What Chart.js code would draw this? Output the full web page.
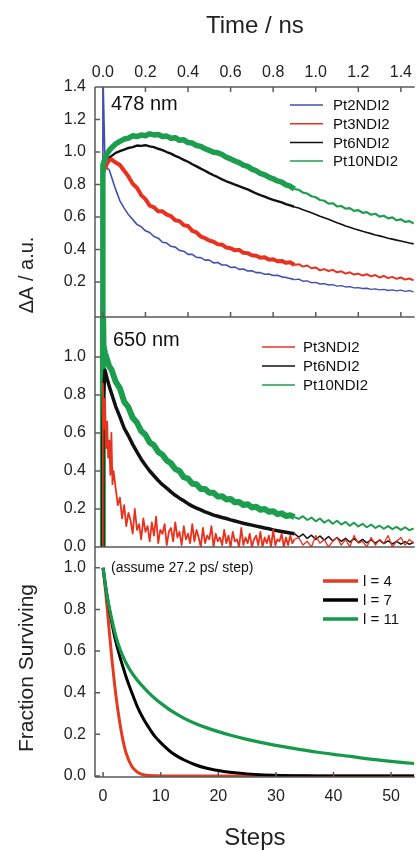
<!DOCTYPE html>
<html>
<head>
<meta charset="utf-8">
<script src="https://cdn.jsdelivr.net/npm/chart.js@4.4.1/dist/chart.umd.min.js"></script>
<style>
  html, body { margin: 0; padding: 0; background: #fff; }
  canvas { display: block; }
</style>
</head>
<body>
<canvas id="c" width="417" height="850"></canvas>
<script>
// ---- tick labels
const nsTicks = [0, 0.2, 0.4, 0.6, 0.8, 1.0, 1.2, 1.4];
const stepTicks = [0, 10, 20, 30, 40, 50];
const yTicks478 = [0.2, 0.4, 0.6, 0.8, 1.0, 1.2, 1.4];
const yTicks650 = [0, 0.2, 0.4, 0.6, 0.8, 1.0];
const yTicksFrac = [0, 0.2, 0.4, 0.6, 0.8, 1.0];

// ---- 478 nm panel (time in ns)
const t478 = [-0.002, 0, 0.01, 0.02, 0.03, 0.04, 0.06, 0.08, 0.10, 0.12, 0.14, 0.16, 0.18, 0.20, 0.22, 0.24, 0.26, 0.28, 0.30, 0.32, 0.34, 0.36, 0.38, 0.40, 0.42, 0.44, 0.46, 0.48, 0.50, 0.52, 0.54, 0.56, 0.58, 0.60, 0.62, 0.64, 0.66, 0.68, 0.70, 0.72, 0.74, 0.76, 0.78, 0.80, 0.82, 0.84, 0.86, 0.88, 0.90, 0.92, 0.94, 0.96, 0.98, 1.00, 1.02, 1.04, 1.06, 1.08, 1.10, 1.12, 1.14, 1.16, 1.18, 1.20, 1.22, 1.24, 1.26, 1.28, 1.30, 1.32, 1.34, 1.36, 1.38, 1.40, 1.42, 1.44, 1.46];
const pt2_478 = [-0.05, 1.5, 0.93, 0.90, 0.89, 0.85, 0.77, 0.70, 0.655, 0.615, 0.585, 0.555, 0.54, 0.515, 0.505, 0.48, 0.47, 0.445, 0.44, 0.42, 0.415, 0.395, 0.39, 0.37, 0.37, 0.352, 0.35, 0.335, 0.335, 0.318, 0.32, 0.305, 0.305, 0.29, 0.292, 0.278, 0.28, 0.268, 0.27, 0.258, 0.258, 0.248, 0.25, 0.24, 0.242, 0.232, 0.228, 0.222, 0.215, 0.218, 0.205, 0.207, 0.196, 0.198, 0.188, 0.19, 0.182, 0.184, 0.175, 0.178, 0.17, 0.172, 0.164, 0.166, 0.16, 0.162, 0.155, 0.158, 0.152, 0.155, 0.148, 0.152, 0.146, 0.15, 0.143, 0.147, 0.14];
const pt3_478 = [-0.05, 0.87, 0.90, 0.93, 0.95, 0.955, 0.935, 0.92, 0.885, 0.85, 0.805, 0.78, 0.735, 0.71, 0.67, 0.66, 0.635, 0.635, 0.615, 0.605, 0.58, 0.575, 0.55, 0.545, 0.515, 0.505, 0.48, 0.47, 0.455, 0.448, 0.432, 0.43, 0.412, 0.408, 0.395, 0.398, 0.38, 0.378, 0.365, 0.362, 0.35, 0.352, 0.338, 0.34, 0.328, 0.33, 0.318, 0.322, 0.305, 0.31, 0.295, 0.302, 0.285, 0.29, 0.272, 0.28, 0.268, 0.275, 0.26, 0.266, 0.252, 0.26, 0.246, 0.252, 0.24, 0.248, 0.235, 0.243, 0.228, 0.238, 0.224, 0.232, 0.22, 0.228, 0.215, 0.222, 0.21];
const pt6_478 = [-0.05, 0.90, 0.93, 0.95, 0.965, 0.975, 0.995, 1.005, 1.015, 1.025, 1.03, 1.04, 1.038, 1.042, 1.035, 1.03, 1.02, 1.012, 1.0, 0.99, 0.976, 0.965, 0.952, 0.94, 0.925, 0.912, 0.898, 0.885, 0.87, 0.857, 0.845, 0.832, 0.82, 0.81, 0.80, 0.79, 0.78, 0.77, 0.758, 0.745, 0.735, 0.726, 0.715, 0.706, 0.698, 0.69, 0.68, 0.672, 0.662, 0.655, 0.645, 0.636, 0.626, 0.616, 0.605, 0.596, 0.586, 0.575, 0.565, 0.556, 0.545, 0.537, 0.528, 0.52, 0.512, 0.505, 0.498, 0.49, 0.484, 0.477, 0.47, 0.464, 0.458, 0.452, 0.446, 0.44, 0.435];
const pt10_478 = [-0.05, 0.92, 0.96, 0.99, 1.01, 1.025, 1.05, 1.065, 1.08, 1.085, 1.10, 1.095, 1.105, 1.10, 1.112, 1.105, 1.108, 1.095, 1.098, 1.085, 1.088, 1.072, 1.075, 1.058, 1.055, 1.04, 1.035, 1.02, 1.01, 0.998, 0.995, 0.985, 0.968, 0.958, 0.945, 0.935, 0.92, 0.912, 0.895, 0.885, 0.868, 0.86, 0.845, 0.835, 0.822, 0.815, 0.798, 0.79, 0.772, 0.768, 0.75, 0.745, 0.728, 0.722, 0.705, 0.70, 0.682, 0.685, 0.665, 0.668, 0.652, 0.655, 0.638, 0.642, 0.626, 0.63, 0.614, 0.62, 0.603, 0.608, 0.592, 0.598, 0.58, 0.586, 0.57, 0.575, 0.56];

// ---- 650 nm panel (time in ns)
const t650 = [-0.002, 0, 0.003, 0.01, 0.02, 0.03, 0.04, 0.06, 0.08, 0.10, 0.12, 0.14, 0.16, 0.18, 0.20, 0.22, 0.24, 0.26, 0.28, 0.30, 0.32, 0.34, 0.36, 0.38, 0.40, 0.42, 0.44, 0.46, 0.48, 0.50, 0.52, 0.54, 0.56, 0.58, 0.60, 0.62, 0.64, 0.66, 0.68, 0.70, 0.72, 0.74, 0.76, 0.78, 0.80, 0.82, 0.84, 0.86, 0.88, 0.90, 0.92, 0.94, 0.96, 0.98, 1.00, 1.02, 1.04, 1.06, 1.08, 1.10, 1.12, 1.14, 1.16, 1.18, 1.20, 1.22, 1.24, 1.26, 1.28, 1.30, 1.32, 1.34, 1.36, 1.38, 1.40, 1.42, 1.44, 1.46];
const pt6_650 = [-0.05, 0.6, 0.8, 0.93, 0.885, 0.845, 0.81, 0.74, 0.685, 0.625, 0.585, 0.54, 0.50, 0.462, 0.43, 0.40, 0.375, 0.35, 0.328, 0.31, 0.29, 0.272, 0.257, 0.243, 0.228, 0.215, 0.205, 0.195, 0.185, 0.177, 0.168, 0.162, 0.155, 0.15, 0.143, 0.137, 0.131, 0.125, 0.12, 0.115, 0.11, 0.105, 0.10, 0.096, 0.09, 0.086, 0.082, 0.078, 0.074, 0.07, 0.052, 0.068, 0.045, 0.062, 0.04, 0.058, 0.036, 0.055, 0.032, 0.05, 0.03, 0.046, 0.026, 0.044, 0.024, 0.04, 0.022, 0.038, 0.02, 0.036, 0.018, 0.032, 0.016, 0.03, 0.015, 0.028, 0.014, 0.025];
const pt10_650 = [-0.05, 1.3, 1.06, 1.02, 0.985, 0.95, 0.935, 0.87, 0.835, 0.765, 0.735, 0.68, 0.655, 0.61, 0.59, 0.55, 0.535, 0.5, 0.485, 0.455, 0.44, 0.41, 0.4, 0.367, 0.36, 0.333, 0.33, 0.305, 0.305, 0.285, 0.285, 0.265, 0.267, 0.25, 0.253, 0.235, 0.237, 0.221, 0.225, 0.208, 0.212, 0.196, 0.2, 0.185, 0.188, 0.173, 0.177, 0.163, 0.167, 0.158, 0.148, 0.162, 0.142, 0.155, 0.135, 0.15, 0.128, 0.142, 0.122, 0.138, 0.118, 0.132, 0.112, 0.128, 0.108, 0.122, 0.104, 0.118, 0.10, 0.112, 0.096, 0.11, 0.094, 0.106, 0.09, 0.104, 0.088, 0.098];
const t650r = [-0.002, 0, 0.005, 0.01, 0.015, 0.02, 0.025, 0.03, 0.035, 0.04, 0.045, 0.05, 0.06, 0.07, 0.08, 0.09, 0.10, 0.11, 0.12, 0.13, 0.14, 0.15, 0.16, 0.17, 0.18, 0.19, 0.20, 0.21, 0.22, 0.23, 0.24, 0.25, 0.26, 0.27, 0.28, 0.29, 0.30, 0.31, 0.32, 0.33, 0.34, 0.35, 0.36, 0.37, 0.38, 0.39, 0.40, 0.41, 0.42, 0.43, 0.44, 0.45, 0.46, 0.47, 0.48, 0.49, 0.50, 0.51, 0.52, 0.53, 0.54, 0.55, 0.56, 0.57, 0.58, 0.59, 0.60, 0.61, 0.62, 0.63, 0.64, 0.65, 0.66, 0.67, 0.68, 0.69, 0.70, 0.71, 0.72, 0.73, 0.74, 0.75, 0.76, 0.77, 0.78, 0.79, 0.80, 0.81, 0.82, 0.83, 0.84, 0.85, 0.86, 0.87, 0.88, 0.89, 0.90, 0.92, 0.94, 0.96, 0.98, 1.00, 1.02, 1.04, 1.06, 1.08, 1.10, 1.12, 1.14, 1.16, 1.18, 1.20, 1.22, 1.24, 1.26, 1.28, 1.30, 1.32, 1.34, 1.36, 1.38, 1.40, 1.42, 1.44, 1.46];
const pt3_650 = [-0.05, 0.86, 0.62, 0.78, 0.52, 0.66, 0.47, 0.56, 0.38, 0.60, 0.33, 0.40,
  0.31, 0.22, 0.26, 0.15, 0.22, 0.11, 0.18, 0.14, 0.07, 0.20, 0.09, 0.12, 0.04, 0.15, 0.08, 0.11, 0.03, 0.13, 0.06, 0.16, 0.02, 0.09, 0.07, 0.12, 0.01, 0.08, 0.10, 0.03, 0.13, 0.05, 0.08, 0.01, 0.11, 0.04, 0.07, 0.02, 0.12, 0.03, 0.09, 0.05, 0.0, 0.10, 0.02, 0.06, 0.04, 0.11, 0.0, 0.07, 0.03, 0.05, 0.01, 0.09, 0.02, 0.06, 0.0, 0.08, 0.03, 0.04, 0.0, 0.10, 0.01, 0.05, 0.02, 0.07, 0.0, 0.04, 0.06, 0.01, 0.08, 0.0, 0.05, 0.02, 0.06, 0.0, 0.09, 0.01, 0.04, 0.03, 0.07, 0.0, 0.05, 0.01, 0.06, 0.02, 0.04,
  0.05, 0.01, 0.03, 0.0, 0.06, 0.02, 0.04, 0.0, 0.03, 0.05, 0.01, 0.04, 0.0, 0.06, 0.02, 0.03, 0.0, 0.05, 0.01, 0.04, 0.02, 0.06, 0.0, 0.03, 0.05, 0.01, 0.04, 0.02];

// ---- model panel (steps)
const steps = [0, 0.5, 1, 1.5, 2, 2.5, 3, 3.5, 4, 5, 6, 7, 8, 9, 10, 12, 14, 16, 18, 20, 22, 25, 28, 31, 34, 37, 40, 43, 46, 50, 54];
const surv4 = [1.0, 0.87, 0.72, 0.57, 0.44, 0.33, 0.24, 0.165, 0.11, 0.045, 0.018, 0.006, 0.002, 0.001, 0, 0, 0, 0, 0, 0, 0, 0, 0, 0, 0, 0, 0, 0, 0, 0, 0];
const surv7 = [1.0, 0.9, 0.815, 0.74, 0.67, 0.615, 0.565, 0.52, 0.475, 0.40, 0.33, 0.275, 0.23, 0.19, 0.16, 0.11, 0.078, 0.054, 0.037, 0.026, 0.018, 0.01, 0.005, 0.002, 0.001, 0, 0, 0, 0, 0, 0];
const surv11 = [1.0, 0.9, 0.82, 0.755, 0.695, 0.645, 0.605, 0.572, 0.543, 0.495, 0.458, 0.427, 0.398, 0.372, 0.35, 0.31, 0.278, 0.252, 0.231, 0.213, 0.197, 0.176, 0.158, 0.142, 0.128, 0.115, 0.104, 0.094, 0.082, 0.07, 0.06];

const FONT = "'Liberation Sans', Arial, Helvetica, sans-serif";
const INK = "#222";
const FRAME = "#5a5a5a";
const BLUE = "#3f4fb2", RED = "#e8321e", BLACK = "#111", GREEN = "#1c9e4e";
const TAIL = 0.9; // sampling gets sparser after this time

function trace(label, xs, ys, color, w, tailW, xAxisID, yAxisID, order) {
  return {
    label, color,
    data: xs.map((x, i) => ({ x, y: ys[i] })),
    borderColor: color, borderWidth: w, xAxisID, yAxisID, order,
    pointRadius: 0, fill: false, tension: 0, borderJoinStyle: "round",
    segment: { borderWidth: c => (xAxisID === "xt" && c.p0.parsed.x >= TAIL ? tailW : w) }
  };
}

const ds478 = [
  trace("Pt2NDI2", t478, pt2_478, BLUE, 1.6, 1.4, "xt", "y1", 4),
  trace("Pt3NDI2", t478, pt3_478, RED, 4, 2, "xt", "y1", 2),
  trace("Pt6NDI2", t478, pt6_478, BLACK, 2.4, 1.6, "xt", "y1", 3),
  trace("Pt10NDI2", t478, pt10_478, GREEN, 5.5, 2.2, "xt", "y1", 1)
];
const ds650 = [
  trace("Pt3NDI2", t650r, pt3_650, RED, 1.8, 1.3, "xt", "y2", 1),
  trace("Pt6NDI2", t650, pt6_650, BLACK, 3.5, 1.5, "xt", "y2", 2),
  trace("Pt10NDI2", t650, pt10_650, GREEN, 6, 2, "xt", "y2", 3)
];
const dsModel = [
  trace("l = 4", steps, surv4, "#e33a22", 3, 3, "xb", "y3", 3),
  trace("l = 7", steps, surv7, "#000", 3, 3, "xb", "y3", 2),
  trace("l = 11", steps, surv11, "#15994a", 3.2, 3.2, "xb", "y3", 1)
];
dsModel.forEach(d => { d.cubicInterpolationMode = "monotone"; });

const tickFont = { family: FONT, size: 16 };
const fixTicks = list => s => { s.ticks = list.map(v => ({ value: v })); };

function yAxis(list, min, max) {
  return {
    type: "linear", position: "left", stack: "panels", stackWeight: 1,
    min, max,
    afterBuildTicks: fixTicks(list),
    afterFit: s => { s.width = 95; },
    grid: { display: false, drawTicks: false },
    border: { display: false },
    ticks: { font: tickFont, color: INK, padding: 9, autoSkip: false, callback: v => v.toFixed(1) }
  };
}

const decor = {
  id: "decor",
  afterDatasetsDraw(chart) {
    const { ctx, chartArea: a } = chart;
    const { xt, xb, y1, y2, y3 } = chart.scales;
    const tk = 5;
    ctx.save();
    ctx.strokeStyle = FRAME;
    ctx.lineWidth = 1.5;
    ctx.beginPath();
    [y1.top, y1.bottom, y2.bottom, y3.bottom].forEach(y => { ctx.moveTo(a.left, y); ctx.lineTo(a.right, y); });
    ctx.moveTo(a.left, a.top); ctx.lineTo(a.left, a.bottom);
    nsTicks.forEach(v => {
      const x = xt.getPixelForValue(v);
      ctx.moveTo(x, y1.top); ctx.lineTo(x, y1.top + tk);
      ctx.moveTo(x, y1.bottom); ctx.lineTo(x, y1.bottom - tk);
    });
    stepTicks.forEach(v => {
      const x = xb.getPixelForValue(v);
      ctx.moveTo(x, y3.bottom); ctx.lineTo(x, y3.bottom - tk);
    });
    [[y1, yTicks478], [y2, yTicks650], [y3, yTicksFrac]].forEach(([s, list]) => list.forEach(v => {
      const y = s.getPixelForValue(v);
      ctx.moveTo(a.left, y); ctx.lineTo(a.left + tk, y);
    }));
    ctx.stroke();

    // panel labels
    ctx.fillStyle = "#111";
    ctx.textBaseline = "middle";
    ctx.textAlign = "left";
    ctx.font = `20px ${FONT}`;
    ctx.fillText("478 nm", 111, y1.top + 17);
    ctx.fillText("650 nm", 113, y2.top + 23);
    ctx.font = `14px ${FONT}`;
    ctx.fillText("(assume 27.2 ps/ step)", 111, y3.top + 21);

    // legends
    const legend = (list, x0, x1, tx, yTop, gap, w, size) => {
      list.forEach((d, i) => {
        const y = yTop + i * gap;
        ctx.strokeStyle = d.color;
        ctx.lineWidth = w;
        ctx.beginPath(); ctx.moveTo(x0, y); ctx.lineTo(x1, y); ctx.stroke();
        ctx.fillStyle = "#111";
        ctx.font = `${size}px ${FONT}`;
        ctx.fillText(d.label, tx, y + 1);
      });
    };
    legend(ds478, 290, 323, 333, y1.top + 18, 18.7, 1.5, 15);
    legend(ds650, 262, 295, 303, y2.top + 30, 19, 1.5, 15);
    legend(dsModel, 323, 358, 363, y3.top + 34, 19, 3.5, 15);

    // y titles
    ctx.fillStyle = INK;
    ctx.font = `20px ${FONT}`;
    ctx.textAlign = "center";
    ctx.save(); ctx.translate(27, 275); ctx.rotate(-Math.PI / 2); ctx.fillText("\u0394A / a.u.", 0, 0); ctx.restore();
    ctx.font = `21px ${FONT}`;
    ctx.save(); ctx.translate(27, 668); ctx.rotate(-Math.PI / 2); ctx.fillText("Fraction Surviving", 0, 0); ctx.restore();
    ctx.restore();
  }
};

new Chart(document.getElementById("c"), {
  type: "line",
  data: { datasets: [...ds478, ...ds650, ...dsModel] },
  options: {
    responsive: false,
    animation: false,
    devicePixelRatio: 1,
    layout: { padding: 0 },
    plugins: { legend: { display: false }, tooltip: { enabled: false } },
    scales: {
      xt: {
        type: "linear", position: "top", min: -0.037, max: 1.465,
        afterBuildTicks: fixTicks(nsTicks),
        afterFit: s => { s.height = 87; },
        grid: { display: false, drawTicks: false },
        border: { display: false },
        ticks: { font: tickFont, color: INK, padding: 5, autoSkip: false, maxRotation: 0, callback: v => v.toFixed(1) },
        title: { display: true, text: "Time / ns", color: INK, font: { family: FONT, size: 24, lineHeight: 1 }, padding: { top: 14, bottom: 0 } }
      },
      xb: {
        type: "linear", position: "bottom", min: -1.4, max: 54.1,
        afterBuildTicks: fixTicks(stepTicks),
        afterFit: s => { s.height = 73; },
        grid: { display: false, drawTicks: false },
        border: { display: false },
        ticks: { font: tickFont, color: INK, padding: 10, autoSkip: false, maxRotation: 0, callback: v => String(v) },
        title: { display: true, text: "Steps", color: INK, font: { family: FONT, size: 24, lineHeight: 1 }, padding: { top: 0, bottom: 0 } }
      },
      y3: yAxis(yTicksFrac, -0.005, 1.1),
      y2: yAxis(yTicks650, 0, 1.21),
      y1: yAxis(yTicks478, -0.015, 1.4)
    }
  },
  plugins: [decor]
});
</script>
</body>
</html>
